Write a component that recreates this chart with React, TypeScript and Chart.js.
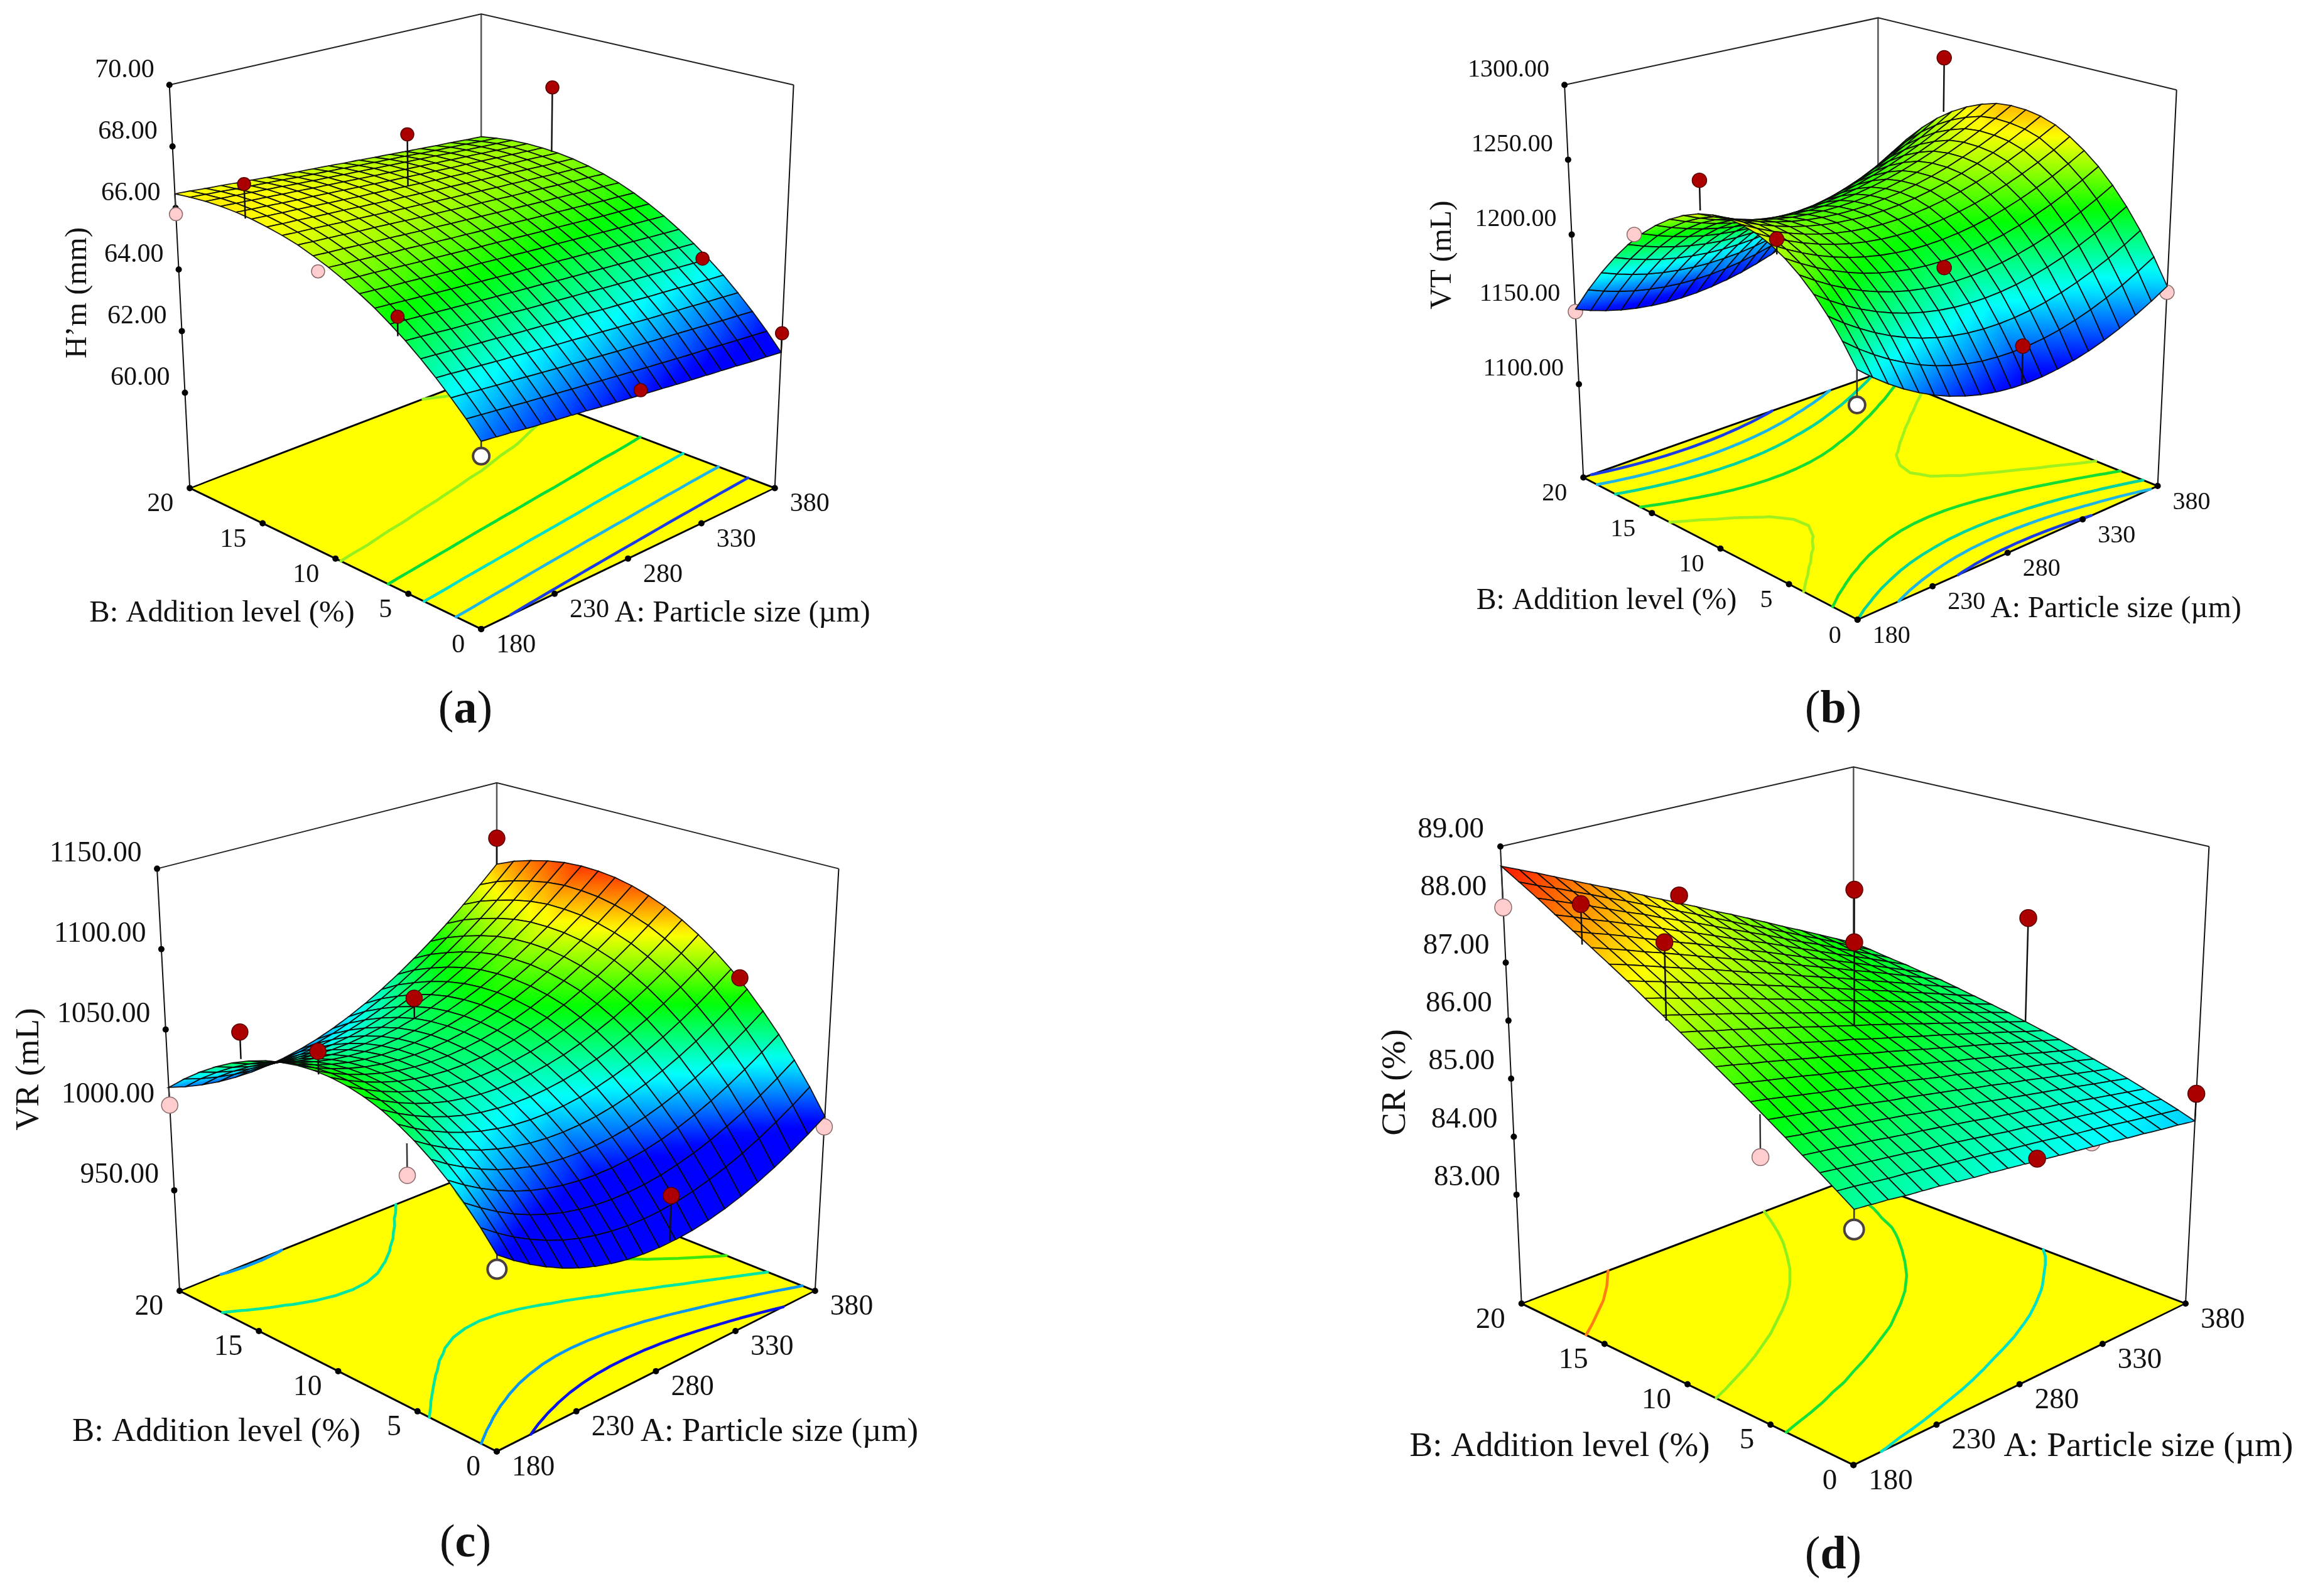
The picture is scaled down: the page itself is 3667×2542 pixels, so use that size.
import React, { useEffect, useRef } from "react";
import { Chart, registerables } from "chart.js";

Chart.register(...registerables);

const particleSizes = [180, 230, 280, 330, 380];
const additionLevels = [0, 5, 10, 15, 20];

// Surfaces: rows run B = 0..20 in steps of 1, columns A = 180..380 in steps of 10.
const hmGrid = [
[62.35,62.30,62.25,62.19,62.14,62.09,62.04,61.99,61.93,61.88,61.83,61.78,61.73,61.67,61.62,61.57,61.52,61.47,61.41,61.36,61.31],
[62.83,62.78,62.73,62.68,62.63,62.58,62.53,62.48,62.43,62.38,62.33,62.28,62.23,62.18,62.13,62.08,62.04,61.99,61.94,61.89,61.84],
[63.27,63.23,63.18,63.13,63.09,63.04,62.99,62.94,62.90,62.85,62.80,62.75,62.71,62.66,62.61,62.57,62.52,62.47,62.42,62.38,62.33],
[63.69,63.65,63.60,63.56,63.51,63.47,63.42,63.38,63.33,63.29,63.24,63.20,63.15,63.11,63.06,63.02,62.97,62.93,62.88,62.84,62.79],
[64.08,64.04,64.00,63.95,63.91,63.87,63.82,63.78,63.74,63.69,63.65,63.61,63.56,63.52,63.48,63.43,63.39,63.35,63.30,63.26,63.22],
[64.45,64.41,64.37,64.32,64.28,64.24,64.20,64.16,64.11,64.07,64.03,63.99,63.95,63.90,63.86,63.82,63.78,63.74,63.69,63.65,63.61],
[64.78,64.74,64.70,64.66,64.62,64.58,64.54,64.50,64.46,64.42,64.38,64.33,64.29,64.25,64.21,64.17,64.13,64.09,64.05,64.01,63.97],
[65.09,65.05,65.01,64.97,64.93,64.89,64.85,64.81,64.77,64.73,64.70,64.66,64.62,64.58,64.54,64.50,64.46,64.42,64.38,64.34,64.30],
[65.36,65.32,65.28,65.25,65.21,65.17,65.13,65.09,65.06,65.02,64.98,64.94,64.90,64.87,64.83,64.79,64.75,64.71,64.68,64.64,64.60],
[65.61,65.57,65.54,65.50,65.46,65.42,65.39,65.35,65.31,65.27,65.24,65.20,65.16,65.12,65.09,65.05,65.01,64.97,64.94,64.90,64.86],
[65.83,65.79,65.76,65.72,65.68,65.65,65.61,65.57,65.53,65.50,65.46,65.42,65.39,65.35,65.31,65.28,65.24,65.20,65.16,65.13,65.09],
[66.02,65.98,65.95,65.91,65.87,65.84,65.80,65.76,65.73,65.69,65.66,65.62,65.58,65.55,65.51,65.47,65.44,65.40,65.36,65.33,65.29],
[66.19,66.15,66.12,66.08,66.04,66.01,65.97,65.93,65.89,65.86,65.82,65.78,65.75,65.71,65.67,65.64,65.60,65.56,65.52,65.49,65.45],
[66.32,66.28,66.25,66.21,66.17,66.14,66.10,66.06,66.02,65.99,65.95,65.91,65.88,65.84,65.80,65.77,65.73,65.69,65.65,65.62,65.58],
[66.42,66.38,66.35,66.31,66.27,66.24,66.20,66.16,66.12,66.09,66.05,66.01,65.98,65.94,65.90,65.87,65.83,65.79,65.75,65.72,65.68],
[66.50,66.46,66.42,66.39,66.35,66.31,66.27,66.23,66.20,66.16,66.12,66.08,66.04,66.01,65.97,65.93,65.89,65.85,65.82,65.78,65.74],
[66.55,66.51,66.47,66.43,66.39,66.36,66.32,66.28,66.24,66.20,66.16,66.12,66.08,66.04,66.00,65.97,65.93,65.89,65.85,65.81,65.77],
[66.57,66.53,66.49,66.45,66.41,66.37,66.33,66.29,66.25,66.21,66.17,66.13,66.09,66.05,66.01,65.97,65.93,65.89,65.85,65.81,65.77],
[66.56,66.52,66.48,66.44,66.40,66.36,66.31,66.27,66.23,66.19,66.15,66.11,66.07,66.03,65.99,65.95,65.90,65.86,65.82,65.78,65.74],
[66.52,66.48,66.44,66.39,66.35,66.31,66.27,66.22,66.18,66.14,66.10,66.05,66.01,65.97,65.93,65.88,65.84,65.80,65.76,65.71,65.67],
[66.46,66.42,66.37,66.33,66.28,66.24,66.19,66.15,66.10,66.06,66.02,65.97,65.93,65.88,65.84,65.79,65.75,65.70,65.66,65.61,65.57],
];

const vtGrid = [
[1187,1179,1171.8,1165.3,1159.6,1154.6,1150.4,1147,1144.2,1142.2,1141,1140.5,1140.8,1141.9,1143.6,1146.1,1149.4,1153.5,1158.2,1163.7,1170],
[1200.3,1192.7,1185.9,1179.8,1174.4,1169.7,1165.7,1162.5,1160,1158.2,1157.2,1156.9,1157.3,1158.4,1160.2,1162.8,1166.1,1170.1,1174.8,1180.3,1186.4],
[1212,1204.8,1198.4,1192.6,1187.5,1183.1,1179.4,1176.4,1174.1,1172.5,1171.6,1171.4,1171.9,1173.1,1175,1177.6,1180.9,1184.9,1189.6,1195,1201.1],
[1222,1215.2,1209.1,1203.7,1199,1195,1191.6,1188.9,1186.8,1185.4,1184.7,1184.6,1185.2,1186.5,1188.5,1191.1,1194.4,1198.4,1203,1208.3,1214.3],
[1230.5,1224.1,1218.3,1213.2,1208.7,1204.9,1201.7,1199.2,1197.3,1196.1,1195.5,1195.6,1196.3,1197.7,1199.7,1202.4,1205.8,1209.8,1214.5,1219.8,1225.8],
[1237.4,1231.3,1225.8,1221,1216.8,1213.2,1210.3,1208,1206.3,1205.3,1204.9,1205.1,1206,1207.5,1209.6,1212.4,1215.8,1219.8,1224.5,1229.8,1235.7],
[1242.7,1236.9,1231.7,1227.1,1223.2,1219.9,1217.2,1215.1,1213.6,1212.7,1212.4,1212.8,1213.8,1215.4,1217.6,1220.4,1223.9,1228,1232.6,1237.9,1243.8],
[1246.4,1240.9,1236,1231.7,1228,1224.9,1222.4,1220.5,1219.2,1218.5,1218.4,1218.9,1220,1221.7,1224,1226.9,1230.4,1234.5,1239.2,1244.5,1250.6],
[1248.5,1243.3,1238.6,1234.6,1231.1,1228.2,1225.9,1224.2,1223.1,1222.6,1222.7,1223.4,1224.7,1226.6,1229,1232.1,1235.7,1240,1244.8,1250.2,1256],
[1249.1,1244.1,1239.7,1235.9,1232.6,1230,1227.9,1226.4,1225.5,1225.1,1225.3,1226.1,1227.5,1229.5,1232,1235.1,1238.8,1243.1,1247.9,1253.3,1259.3],
[1248,1243.2,1239,1235.4,1232.3,1229.8,1227.9,1226.6,1225.8,1225.6,1226,1227,1228.4,1230.5,1233.1,1236.3,1240.1,1244.4,1249.3,1254.8,1261],
[1245.4,1240.8,1236.8,1233.4,1230.5,1228.2,1226.4,1225.3,1224.7,1224.6,1225.1,1226.2,1227.8,1230,1232.8,1236.1,1240,1244.5,1249.5,1255.1,1261.2],
[1241,1236.6,1232.8,1229.6,1226.9,1224.8,1223.2,1222.2,1221.8,1221.9,1222.6,1223.8,1225.6,1228,1230.9,1234.4,1238.4,1243,1248.1,1253.8,1260],
[1235.2,1231,1227.3,1224.2,1221.7,1219.7,1218.3,1217.4,1217.1,1217.3,1218.1,1219.4,1221.3,1223.8,1226.8,1230.4,1234.5,1239.2,1244.4,1250.2,1256.6],
[1227.8,1223.7,1220.2,1217.2,1214.8,1212.9,1211.6,1210.9,1210.7,1211.1,1212,1213.5,1215.5,1218.1,1221.3,1225,1229.3,1234.1,1239.5,1245.4,1251.9],
[1218.9,1214.9,1211.5,1208.7,1206.4,1204.7,1203.5,1202.9,1202.9,1203.4,1204.4,1206,1208.2,1210.9,1214.2,1218,1222.4,1227.4,1232.9,1239,1245.7],
[1208.3,1204.4,1201.1,1198.4,1196.2,1194.6,1193.5,1193,1193.1,1193.7,1194.9,1196.7,1199,1201.9,1205.4,1209.4,1214,1219.1,1224.8,1231.1,1237.9],
[1196.1,1192.3,1189.1,1186.4,1184.3,1182.8,1181.8,1181.4,1181.6,1182.3,1183.7,1185.6,1188.1,1191.1,1194.7,1198.9,1203.6,1208.9,1214.8,1221.3,1228.3],
[1182.3,1178.6,1175.4,1172.8,1170.8,1169.4,1168.5,1168.2,1168.5,1169.3,1170.8,1172.8,1175.4,1178.6,1182.4,1186.7,1191.6,1197.1,1203.2,1209.9,1217.1],
[1167,1163.3,1160.2,1157.6,1155.7,1154.3,1153.5,1153.3,1153.7,1154.7,1156.3,1158.5,1161.2,1164.6,1168.5,1173,1178.1,1183.8,1190.1,1197,1204.4],
[1150,1146.3,1143.2,1140.7,1138.8,1137.5,1136.8,1136.7,1137.2,1138.3,1140,1142.3,1145.2,1148.7,1152.8,1157.5,1162.8,1168.7,1175.2,1182.3,1190],
];

const vrGrid = [
[997,990,983.8,978.3,973.5,969.4,966.1,963.5,961.6,960.5,960.1,960.4,961.4,963.2,965.7,968.9,972.9,977.6,983,989.2,996],
[1008.2,1001.4,995.3,990,985.4,981.5,978.4,976,974.3,973.3,973.1,973.6,974.8,976.8,979.5,982.9,987,991.9,997.5,1003.8,1010.9],
[1018.3,1011.7,1005.8,1000.6,996.2,992.5,989.5,987.3,985.8,985,985,985.6,987,989.2,992,995.6,999.9,1004.9,1010.7,1017.2,1024.4],
[1027.3,1020.9,1015.2,1010.2,1006,1002.5,999.7,997.7,996.4,995.8,995.9,996.8,998.4,1000.7,1003.8,1007.6,1012.1,1017.4,1023.4,1030.1,1037.3],
[1035.3,1029,1023.5,1018.7,1014.6,1011.3,1008.7,1006.8,1005.7,1005.3,1005.6,1006.6,1008.4,1010.9,1014.1,1018.1,1022.8,1028.2,1034.3,1041.2,1048.8],
[1042.1,1036,1030.7,1026.1,1022.2,1019.1,1016.7,1015,1014,1013.8,1014.3,1015.5,1017.5,1020.2,1023.6,1027.8,1032.7,1038.3,1044.6,1051.7,1059.5],
[1047.9,1042,1036.9,1032.5,1028.8,1025.8,1023.6,1022.1,1021.3,1021.3,1022,1023.4,1025.6,1028.5,1032.1,1036.4,1041.5,1047.3,1053.8,1061.1,1069.1],
[1052.6,1046.9,1042,1037.8,1034.3,1031.5,1029.5,1028.2,1027.6,1027.8,1028.7,1030.3,1032.6,1035.7,1039.5,1044,1049.3,1055.3,1062,1069.4,1077.6],
[1056.1,1050.6,1045.9,1041.9,1038.6,1036,1034.2,1033.1,1032.7,1033.1,1034.2,1036,1038.5,1041.8,1045.8,1050.5,1056,1062.2,1069.1,1076.7,1085.1],
[1058.6,1053.3,1048.8,1045,1041.9,1039.5,1037.9,1037,1036.8,1037.3,1038.6,1040.6,1043.3,1046.8,1051,1055.9,1061.6,1068,1075.1,1083,1091.6],
[1060,1054.9,1050.6,1047,1044.1,1042,1040.6,1039.9,1040,1040.7,1042.2,1044.4,1047.4,1051,1055.4,1060.6,1066.4,1073,1080.3,1088.4,1097],
[1060.3,1055.4,1051.3,1047.9,1045.2,1043.2,1042,1041.5,1041.7,1042.7,1044.4,1046.8,1049.9,1053.8,1058.4,1063.7,1069.8,1076.6,1084.1,1092.3,1101.3],
[1059.5,1054.8,1050.9,1047.7,1045.2,1043.4,1042.4,1042.1,1042.5,1043.7,1045.6,1048.2,1051.6,1055.7,1060.5,1066,1072.3,1079.3,1087,1095.5,1104.7],
[1057.6,1053.1,1049.4,1046.4,1044.1,1042.6,1041.8,1041.7,1042.3,1043.7,1045.8,1048.6,1052.2,1056.5,1061.5,1067.3,1073.8,1081,1089,1097.7,1107.1],
[1054.7,1050.4,1046.9,1044.1,1042,1040.7,1040.1,1040.2,1041.1,1042.7,1045,1048,1051.8,1056.3,1061.5,1067.5,1074.2,1081.6,1089.8,1098.7,1108.3],
[1050.6,1046.6,1043.3,1040.7,1038.9,1037.8,1037.4,1037.7,1038.8,1040.6,1043.2,1046.4,1050.4,1055.1,1060.6,1066.8,1073.7,1081.4,1089.8,1099,1108.6],
[1045.5,1041.7,1038.6,1036.2,1034.6,1033.7,1033.5,1034,1035.3,1037.3,1040.1,1043.6,1047.8,1052.7,1058.4,1064.8,1072,1079.9,1088.5,1097.8,1107.8],
[1039.2,1035.6,1032.7,1030.6,1029.2,1028.5,1028.5,1029.3,1030.8,1033,1036,1039.7,1044.1,1049.3,1055.2,1061.8,1069.1,1077.2,1086,1095.5,1105.8],
[1031.9,1028.5,1025.8,1023.9,1022.7,1022.2,1022.5,1023.5,1025.2,1027.7,1030.9,1034.8,1039.4,1044.8,1050.9,1057.7,1065.3,1073.6,1082.6,1092.4,1102.9],
[1023.5,1020.4,1018,1016.3,1015.3,1015.1,1015.6,1016.8,1018.8,1021.5,1024.9,1029.1,1034,1039.6,1046,1053,1060.8,1069.3,1078.6,1088.6,1099.2],
[1014,1011.1,1008.9,1007.4,1006.7,1006.7,1007.4,1008.8,1011,1013.9,1017.5,1021.9,1027,1032.8,1039.4,1046.7,1054.7,1063.4,1072.9,1083.1,1094],
];

const crGrid = [
[85.05,85.02,84.99,84.95,84.92,84.89,84.85,84.81,84.78,84.74,84.70,84.66,84.62,84.58,84.54,84.50,84.45,84.41,84.36,84.32,84.27],
[85.23,85.20,85.16,85.12,85.09,85.05,85.01,84.97,84.93,84.89,84.84,84.80,84.76,84.71,84.66,84.62,84.57,84.52,84.47,84.42,84.37],
[85.41,85.37,85.33,85.29,85.25,85.21,85.16,85.12,85.08,85.03,84.98,84.93,84.89,84.83,84.78,84.73,84.68,84.63,84.57,84.52,84.46],
[85.58,85.54,85.50,85.45,85.41,85.36,85.31,85.27,85.22,85.17,85.12,85.06,85.01,84.96,84.90,84.85,84.79,84.73,84.67,84.61,84.55],
[85.76,85.71,85.67,85.62,85.57,85.52,85.47,85.42,85.36,85.31,85.25,85.20,85.14,85.08,85.02,84.96,84.90,84.84,84.77,84.71,84.64],
[85.94,85.89,85.84,85.79,85.73,85.68,85.62,85.56,85.51,85.45,85.39,85.33,85.26,85.20,85.13,85.07,85.00,84.93,84.86,84.79,84.72],
[86.12,86.07,86.01,85.95,85.89,85.84,85.77,85.71,85.65,85.59,85.52,85.45,85.39,85.32,85.25,85.18,85.10,85.03,84.95,84.88,84.80],
[86.30,86.24,86.18,86.12,86.06,85.99,85.93,85.86,85.79,85.72,85.65,85.58,85.51,85.43,85.36,85.28,85.20,85.13,85.04,84.96,84.88],
[86.48,86.42,86.35,86.29,86.22,86.15,86.08,86.01,85.94,85.86,85.79,85.71,85.63,85.55,85.47,85.39,85.31,85.22,85.14,85.05,84.96],
[86.66,86.59,86.52,86.45,86.38,86.30,86.23,86.15,86.07,86.00,85.91,85.83,85.75,85.66,85.58,85.49,85.40,85.31,85.22,85.12,85.03],
[86.84,86.77,86.69,86.62,86.54,86.46,86.38,86.30,86.21,86.13,86.04,85.96,85.87,85.78,85.68,85.59,85.49,85.40,85.30,85.20,85.10],
[87.02,86.94,86.86,86.78,86.70,86.61,86.53,86.44,86.35,86.26,86.17,86.08,85.98,85.89,85.79,85.69,85.59,85.49,85.38,85.28,85.17],
[87.20,87.12,87.03,86.94,86.86,86.77,86.68,86.58,86.49,86.39,86.29,86.19,86.09,85.99,85.89,85.78,85.68,85.57,85.46,85.34,85.23],
[87.39,87.30,87.21,87.12,87.02,86.93,86.83,86.73,86.63,86.53,86.42,86.32,86.21,86.10,85.99,85.88,85.76,85.65,85.53,85.41,85.29],
[87.57,87.48,87.38,87.28,87.18,87.08,86.98,86.87,86.76,86.66,86.55,86.43,86.32,86.21,86.09,85.97,85.85,85.73,85.60,85.48,85.35],
[87.75,87.65,87.55,87.44,87.34,87.23,87.12,87.01,86.90,86.79,86.67,86.55,86.43,86.31,86.19,86.06,85.94,85.81,85.68,85.54,85.41],
[87.93,87.82,87.72,87.61,87.49,87.38,87.26,87.15,87.03,86.91,86.78,86.66,86.53,86.40,86.27,86.14,86.01,85.87,85.73,85.59,85.45],
[88.11,88.00,87.88,87.77,87.65,87.53,87.41,87.28,87.16,87.03,86.90,86.77,86.64,86.50,86.36,86.22,86.08,85.94,85.80,85.65,85.50],
[88.30,88.18,88.06,87.94,87.81,87.68,87.56,87.42,87.29,87.16,87.02,86.88,86.74,86.60,86.45,86.30,86.16,86.00,85.85,85.70,85.54],
[88.48,88.35,88.23,88.10,87.97,87.83,87.70,87.56,87.42,87.28,87.14,86.99,86.84,86.69,86.54,86.39,86.23,86.08,85.92,85.75,85.59],
[88.66,88.53,88.40,88.26,88.12,87.98,87.84,87.70,87.55,87.40,87.25,87.10,86.94,86.79,86.63,86.47,86.30,86.14,85.97,85.80,85.63],
];

const hmWhite = [[180, 0, 61.92, 62.35]];
const hmPink = [[180, 20, 65.8, 66.46]];
const hmPinkFront = [[180, 10.7, 65.59, 65.59]];
const hmRed = [[380, 0, 61.93, 61.31], [286, 0, 61.95, 61.8], [180, 5.5, 65.08, 64.5], [180, 15.4, 67.54, 66.45], [282, 15, 67.83, 66.12], [380, 15.4, 67.99, 65.72], [380, 5.4, 63.56, 63.55]];
const vtWhite = [[180, 0, 1165.8, 1187]];
const vtPink = [[180, 20, 1148.5, 1150], [380, 0, 1166, 1170]];
const vtPinkFront = [[180, 15.55, 1216.4, 1216.4]];
const vtRed = [[180, 10.85, 1267.1, 1248], [180, 5.55, 1247.4, 1238], [380, 15.55, 1282.8, 1244], [282, 5, 1200.4, 1200.4], [287, 0, 1165, 1141]];
const vrWhite = [[180, 0, 989, 997]];
const vrPink = [[180, 20, 1003, 1014], [380, 0, 989.5, 996], [180, 5.46, 1020.6, 1039]];
const vrRed = [[286.5, 0, 987.9, 961], [380, 5.46, 1065.3, 1062], [380, 20, 1111.8, 1094], [280, 15, 1056, 1043], [180, 15.46, 1066.4, 1050], [180, 10.75, 1072.6, 1059]];
const crWhite = [[180, 0, 84.74, 85.05]];
const crPink = [[180, 20, 87.95, 88.66], [180, 5.45, 85.3, 85.98], [319, 0, 84.62, 84.62]];
const crRed = [[180, 15.53, 88.43, 87.75], [180, 10.8, 88.23, 86.95], [280, 20, 87.39, 87.25], [280, 10, 88.37, 86.04], [280, 10, 87.47, 86.04], [380, 10, 86.98, 85.1], [380, 0, 84.74, 84.27], [287, 0, 84.71, 84.67]];

// Contour levels on the floor, and their colours
const hmLevels = [62.25, 63.15, 64.05, 64.9, 65.75];
const vtLevels = [1148, 1167, 1187, 1210, 1230];
const vrLevels = [983, 1008, 1037, 1065, 1092];
const crLevels = [85, 85.77, 86.53, 87.95];
const hmLevelColors = ["#1a3ce6", "#1fb4e6", "#00e0c8", "#00dc3c", "#96f01e"];
const vtLevelColors = ["#1a3ce6", "#1fb4e6", "#00d2a0", "#14dc32", "#a0f01e"];
const vrLevelColors = ["#0a14e6", "#0a96f0", "#00e6a0", "#3ce60a", "#8cf01e"];
const crLevelColors = ["#00e0c8", "#14e03c", "#8cf01e", "#ff7d14"];

const hmTicks = [60, 62, 64, 66, 68, 70];
const vtTicks = [1100, 1150, 1200, 1250, 1300];
const vrTicks = [950, 1000, 1050, 1100, 1150];
const crTicks = [83, 84, 85, 86, 87, 88, 89];

const panels = [
  {
    tag: "a", zTitle: "H’m (mm)", grid: hmGrid, ticks: hmTicks, levels: hmLevels, levelColors: hmLevelColors,
    white: hmWhite, pink: hmPink, pinkFront: hmPinkFront, red: hmRed,
    zMin: 56.9, zMax: 70, lo: 61.8, hi: 68, dot: 10.5, ring: 13,
    F: [766.2, 1001.9], R: [1233.7, 777.4], L: [302.2, 777.4], B: [766.2, 600.3],
    TF: [766.2, 283.3], TL: [269.7, 135.2], TR: [1263.6, 135.2], TB: [766.2, 22.3],
    tickFont: 42, titleFont: 48.6, zOff: [-24, -23],
    bTitle: [353.5, 977], aTitle: [1182, 977], zTitlePos: [124.4, 466.5], tagPos: [741, 1132],
  },
  {
    tag: "b", zTitle: "VT (mL)", grid: vtGrid, ticks: vtTicks, levels: vtLevels, levelColors: vtLevelColors,
    white: vtWhite, pink: vtPink, pinkFront: vtPinkFront, red: vtRed,
    zMin: 1037.7, zMax: 1300, lo: 1143, hi: 1287, dot: 11.5, ring: 13,
    F: [2957.7, 987], R: [3435.6, 774], L: [2521.2, 760.5], B: [2990.4, 594.9],
    TF: [2956, 286.6], TL: [2491.1, 135.2], TR: [3465.7, 143.3], TB: [2990.4, 28.4],
    tickFont: 40, titleFont: 47.7, zOff: [-24, -24],
    bTitle: [2558, 957], aTitle: [3369, 970], zTitlePos: [2297, 406], tagPos: [2919, 1132],
  },
  {
    tag: "c", zTitle: "VR (mL)", grid: vrGrid, ticks: vrTicks, levels: vrLevels, levelColors: vrLevelColors,
    white: vrWhite, pink: vrPink, pinkFront: [], red: vrRed,
    zMin: 887.5, zMax: 1150, lo: 995, hi: 1115, dot: 13, ring: 15,
    F: [791, 2311.8], R: [1297.8, 2056], L: [286, 2056], B: [791, 1854.2],
    TF: [791.9, 1560.9], TL: [250.1, 1383.6], TR: [1335.5, 1383.6], TB: [791, 1246.7],
    tickFont: 45.6, titleFont: 52.8, zOff: [-24.5, -24],
    bTitle: [344.5, 2281], aTitle: [1241, 2281], zTitlePos: [47, 1703], tagPos: [741, 2460],
  },
  {
    tag: "d", zTitle: "CR (%)", grid: crGrid, ticks: crTicks, levels: crLevels, levelColors: crLevelColors,
    white: crWhite, pink: crPink, pinkFront: [], red: crRed,
    zMin: 81.125, zMax: 89, lo: 83.15, hi: 88.77, dot: 13.5, ring: 15.5,
    F: [2951.3, 2333.4], R: [3480, 2076.2], L: [2422.7, 2076.2], B: [2951.3, 1875.8],
    TF: [2953.2, 1516.2], TL: [2389, 1348.3], TR: [3517.4, 1348.3], TB: [2951.3, 1221.4],
    tickFont: 47, titleFont: 55, zOff: [-26, -27],
    bTitle: [2483.5, 2305], aTitle: [3421, 2305], zTitlePos: [2223, 1724], tagPos: [2919, 2479],
  },
];

const A_MIN = 180, A_MAX = 380, B_MIN = 0, B_MAX = 20;

// Unit square to a drawn quadrilateral: the reference's axis ticks are evenly spaced along the edges.
function planeMap(p0: number[], p1: number[], p2: number[], p3: number[]) {
  return (u: number, v: number) => [0, 1].map((k) =>
    p0[k] * (1 - u) * (1 - v) + p1[k] * u * (1 - v) + p2[k] * u * v + p3[k] * (1 - u) * v);
}

function makeProjection(p: any) {
  const floor = planeMap(p.F, p.R, p.B, p.L);
  const top = planeMap(p.TF, p.TR, p.TB, p.TL);
  return (A: number, B: number, z: number) => {
    const u = (A - A_MIN) / (A_MAX - A_MIN), v = (B - B_MIN) / (B_MAX - B_MIN);
    const w = (z - p.zMin) / (p.zMax - p.zMin);
    const f = floor(u, v), t = top(u, v);
    return { x: f[0] + (t[0] - f[0]) * w, y: f[1] + (t[1] - f[1]) * w };
  };
}

const stops = [[0, 0, 255], [0, 255, 255], [0, 255, 0], [255, 255, 0], [255, 0, 0]];
function rainbow(z: number, lo: number, hi: number) {
  const t = Math.max(0, Math.min(0.9999, (z - lo) / (hi - lo))) * 4;
  const i = Math.floor(t), f = t - i;
  const c = stops[i].map((s, k) => Math.round(s + (stops[i + 1][k] - s) * f));
  return `rgb(${c[0]},${c[1]},${c[2]})`;
}

function contourPoints(grid: number[][], level: number, proj: any, zMin: number) {
  const out: any[] = [];
  const nA = grid[0].length, nB = grid.length;
  const aAt = (i: number) => A_MIN + ((A_MAX - A_MIN) * i) / (nA - 1);
  const bAt = (j: number) => B_MIN + ((B_MAX - B_MIN) * j) / (nB - 1);
  for (let j = 0; j < nB - 1; j++) for (let i = 0; i < nA - 1; i++) {
    const corners = [[i, j], [i + 1, j], [i + 1, j + 1], [i, j + 1]];
    const hits: any[] = [];
    for (let k = 0; k < 4; k++) {
      const [i1, j1] = corners[k], [i2, j2] = corners[(k + 1) % 4];
      const z1 = grid[j1][i1], z2 = grid[j2][i2];
      if ((z1 >= level) !== (z2 >= level)) {
        const t = (level - z1) / (z2 - z1);
        hits.push(proj(aAt(i1 + (i2 - i1) * t), bAt(j1 + (j2 - j1) * t), zMin));
      }
    }
    if (hits.length >= 2) {
      out.push(hits[0], hits[1], { x: NaN, y: NaN });
      if (hits.length === 4) out.push(hits[2], hits[3], { x: NaN, y: NaN });
    }
  }
  return out;
}

// A tiny tension keeps Chart.js off its x-monotonic fast path for these free-form outlines.
function lineSet(data: any[], color: string, width: number, extra: any = {}) {
  return { type: "line", data, borderColor: color, borderWidth: width, pointRadius: 0, tension: 0.0001, fill: false, spanGaps: false, ...extra };
}

function dotSet(data: any[], radius: number, fill: string, edge: string, edgeWidth: number) {
  return { type: "line", data, showLine: false, pointRadius: radius, pointBackgroundColor: fill, pointBorderColor: edge, pointBorderWidth: edgeWidth, pointStyle: "circle" };
}

function buildPanel(p: any, ctx: CanvasRenderingContext2D) {
  const proj = makeProjection(p);
  const sets: any[] = [];
  const zLo = p.zMin, zHi = p.zMax;
  // frame
  sets.push(lineSet([proj(A_MAX, B_MAX, zLo), proj(A_MAX, B_MAX, zHi)], "#555", 2.5));
  sets.push(lineSet([proj(A_MIN, B_MAX, zHi), proj(A_MAX, B_MAX, zHi), proj(A_MAX, B_MIN, zHi)], "#222", 2));
  sets.push(lineSet([proj(A_MIN, B_MAX, zHi), proj(A_MIN, B_MAX, zLo)], "#111", 2));
  sets.push(lineSet([proj(A_MAX, B_MIN, zHi), proj(A_MAX, B_MIN, zLo)], "#111", 2));
  // floor
  sets.push(lineSet([proj(A_MIN, B_MIN, zLo), proj(A_MAX, B_MIN, zLo), proj(A_MAX, B_MAX, zLo), proj(A_MIN, B_MAX, zLo), proj(A_MIN, B_MIN, zLo)],
    "#000", 3, { fill: "shape", backgroundColor: "rgb(255,255,0)" }));
  p.levels.forEach((lev: number, i: number) => {
    sets.push(lineSet(contourPoints(p.grid, lev, proj, zLo), p.levelColors[i], 4.5, { borderCapStyle: "round" }));
  });
  // axis tick marks
  const marks = [
    ...particleSizes.map((a) => proj(a, B_MIN, zLo)),
    ...additionLevels.map((b) => proj(A_MIN, b, zLo)),
    ...p.ticks.map((z: number) => proj(A_MIN, B_MAX, z)),
  ];
  sets.push(dotSet(marks, 5, "#000", "#000", 0));
  // measured points under the surface
  const stemOf = (r: number[]) => [proj(r[0], r[1], r[2]), proj(r[0], r[1], r[3])];
  const at = (r: number[]) => proj(r[0], r[1], r[2]);
  [...p.white, ...p.pink].forEach((r: number[]) => sets.push(lineSet(stemOf(r), "#333", 2.5)));
  sets.push(dotSet(p.pink.map(at), p.dot, "rgb(255,205,205)", "#8a6a6a", 1.5));
  sets.push(dotSet(p.white.map(at), p.ring, "#fff", "#4a4040", 4));
  // surface, far cells first, each shaded from its lowest to its highest corner
  const g = p.grid;
  const nA = g[0].length, nB = g.length;
  const aAt = (i: number) => A_MIN + ((A_MAX - A_MIN) * i) / (nA - 1);
  const bAt = (j: number) => B_MIN + ((B_MAX - B_MIN) * j) / (nB - 1);
  for (let j = nB - 2; j >= 0; j--) for (let i = nA - 2; i >= 0; i--) {
    const idx = [[i, j], [i + 1, j], [i + 1, j + 1], [i, j + 1]];
    const pts = idx.map(([a, b]) => proj(aAt(a), bAt(b), g[b][a]));
    const zs = idx.map(([a, b]) => g[b][a]);
    const kMin = zs.indexOf(Math.min(...zs)), kMax = zs.indexOf(Math.max(...zs));
    const fillStyle = ctx.createLinearGradient(pts[kMin].x, pts[kMin].y, pts[kMax].x, pts[kMax].y);
    for (let s = 0; s <= 4; s++) fillStyle.addColorStop(s / 4, rainbow(zs[kMin] + ((zs[kMax] - zs[kMin]) * s) / 4, p.lo, p.hi));
    sets.push(lineSet([...pts, pts[0]], "rgba(8,8,8,0.92)", 1.8, { fill: "shape", backgroundColor: fillStyle }));
  }
  // points seen in front of, or above, the surface
  sets.push(dotSet(p.pinkFront.map(at), p.dot, "rgb(255,205,205)", "#8a6a6a", 1.5));
  p.red.forEach((r: number[]) => sets.push(lineSet(stemOf(r), "#111", 2.5)));
  sets.push(dotSet(p.red.map(at), p.dot, "rgb(172,0,0)", "#5a0000", 1.5));
  return { sets, proj };
}

const SERIF = '"Liberation Serif", "Times New Roman", serif';

export default function App() {
  const ref = useRef<HTMLCanvasElement | null>(null);
  useEffect(() => {
    document.body.style.margin = "0";
    const canvas = ref.current as HTMLCanvasElement;
    const built = panels.map((p) => buildPanel(p, canvas.getContext("2d") as CanvasRenderingContext2D));
    const datasets = built.flatMap((b) => b.sets);
    datasets.forEach((d, i) => { d.order = datasets.length - i; });
    const labels = {
      id: "panelLabels",
      afterDraw(chart: any) {
        const { ctx } = chart;
        ctx.save();
        ctx.fillStyle = "#111";
        ctx.textBaseline = "middle";
        panels.forEach((p, k) => {
          const proj = built[k].proj;
          const place = (pt: any) => [chart.scales.x.getPixelForValue(pt.x), chart.scales.y.getPixelForValue(pt.y)];
          ctx.font = `${p.tickFont}px ${SERIF}`;
          ctx.textAlign = "right";
          p.ticks.forEach((z) => {
            const [x, y] = place(proj(A_MIN, B_MAX, z));
            ctx.fillText(z.toFixed(2), x + p.zOff[0], y + p.zOff[1]);
          });
          additionLevels.forEach((b) => {
            const [x, y] = place(proj(A_MIN, b, p.zMin));
            ctx.fillText(String(b), x - 26, y + 26);
          });
          ctx.textAlign = "left";
          particleSizes.forEach((a) => {
            const [x, y] = place(proj(a, B_MIN, p.zMin));
            ctx.fillText(String(a), x + 24, y + 26);
          });
          ctx.textAlign = "center";
          ctx.font = `${p.titleFont}px ${SERIF}`;
          ctx.fillText("B: Addition level (%)", p.bTitle[0], p.bTitle[1]);
          ctx.fillText("A: Particle size (µm)", p.aTitle[0], p.aTitle[1]);
          ctx.save();
          ctx.translate(p.zTitlePos[0], p.zTitlePos[1]);
          ctx.rotate(-Math.PI / 2);
          ctx.fillText(p.zTitle, 0, 0);
          ctx.restore();
          // panel tag: "(" bold letter ")"
          const reg = `74px ${SERIF}`, bold = `bold 74px ${SERIF}`;
          ctx.font = reg;
          const wp = ctx.measureText("(").width, wq = ctx.measureText(")").width;
          ctx.font = bold;
          const wt = ctx.measureText(p.tag).width;
          const left = p.tagPos[0] - (wp + wq + wt) / 2;
          ctx.textAlign = "left";
          ctx.font = reg;
          ctx.fillText("(", left, p.tagPos[1]);
          ctx.fillText(")", left + wp + wt, p.tagPos[1]);
          ctx.font = bold;
          ctx.fillText(p.tag, left + wp, p.tagPos[1]);
        });
        ctx.restore();
      },
    };
    const chart = new Chart(canvas, {
      type: "line",
      data: { datasets } as any,
      plugins: [labels],
      options: {
        animation: false,
        responsive: false,
        devicePixelRatio: 1,
        events: [],
        layout: { padding: 0, autoPadding: false },
        plugins: { legend: { display: false }, tooltip: { enabled: false }, title: { display: false } },
        scales: {
          x: { type: "linear", min: 0, max: 3667, display: false },
          y: { type: "linear", min: 0, max: 2542, reverse: true, display: false },
        },
      } as any,
    });
    return () => chart.destroy();
  }, []);
  return (
    <div style={{ position: "absolute", left: 0, top: 0, width: 3667, height: 2542, overflow: "hidden", background: "#fff" }}>
      <canvas ref={ref} width={3667} height={2542} style={{ display: "block", width: 3667, height: 2542 }} />
    </div>
  );
}
